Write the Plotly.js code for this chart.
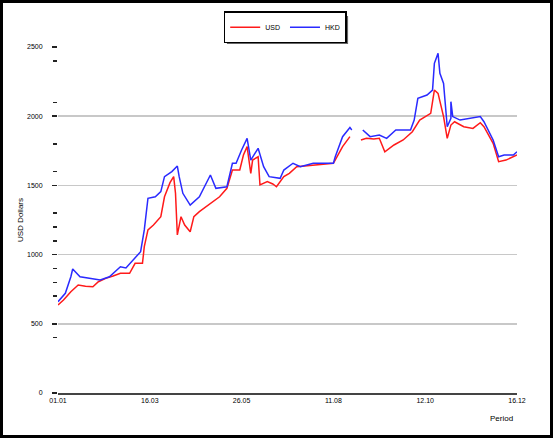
<!DOCTYPE html>
<html>
<head>
<meta charset="utf-8">
<script src="https://cdn.plot.ly/plotly-3.0.1.min.js"></script>
<style>
html,body{margin:0;padding:0;background:#fff;}
#wrap{width:547px;height:432px;border:3px solid #000;}
#chart{width:547px;height:432px;}
</style>
</head>
<body>
<div id="wrap"><div id="chart"></div></div>
<script>
// Series 1 (red)
const usdDays = [0,3,7,11,15,19,22,26,30,34,39,42,46,47,49,52,56,58,61,63,64,65,67,69,72,74,77,80,83,86,88,92,95,99,101,103,105,106,109,110,114,117,119,123,126,130,135,139,145,150,155,159,null,165,168,172,175,178,183,188,193,197,203,205,207,210,212,214,216,221,226,230,232,237,240,244,248,250];
const usdVals = [636,672,732,780,772,768,804,828,845,865,865,937,937,1057,1178,1214,1274,1418,1520,1563,1443,1142,1274,1214,1165,1274,1310,1340,1370,1395,1418,1479,1611,1611,1720,1780,1587,1683,1707,1503,1527,1510,1490,1563,1587,1635,1640,1647,1655,1660,1780,1852,null,1828,1840,1835,1840,1743,1792,1828,1888,1972,2021,2189,2165,1997,1840,1936,1960,1924,1912,1953,1924,1804,1671,1683,1707,1720];
// Series 2 (blue)
const hkdDays = [0,4,7,8,12,16,19,23,28,34,37,41,45,47,49,53,56,58,62,65,66,68,72,77,80,83,86,92,95,97,100,103,105,106,109,112,115,121,123,128,132,139,145,150,151,155,159,160,null,166,170,175,179,184,192,194,196,201,204,205,207,208,210,212,214,214,215,219,226,230,232,237,240,243,248,250];
const hkdVals = [660,720,840,896,840,830,824,816,840,912,903,961,1021,1178,1407,1418,1455,1563,1600,1640,1563,1443,1358,1418,1500,1575,1479,1490,1660,1660,1756,1840,1683,1707,1768,1635,1563,1551,1611,1660,1635,1660,1660,1660,1707,1852,1919,1900,null,1900,1852,1864,1840,1900,1900,1972,2129,2153,2189,2382,2454,2310,2237,1924,1985,2105,1997,1972,1985,1997,1960,1828,1707,1720,1720,1743];
const seriesNames = ['USD','HKD'];
const xTickVals = [0,50,100,150,200,250];
const xTickText = ['01.01','16.03','26.05','11.08','12.10','16.12'];
const yTickVals = [0,500,1000,1500,2000,2500];
const yMinorVals = [400,700,800,900,1100,1200,1300,1600,1800,2100,2400];
const yTitle = 'USD Dollars';
const xTitle = 'Period';

const traces = [
  {x: usdDays, y: usdVals, name: seriesNames[0], type: 'scatter', mode: 'lines',
   line: {color: '#ff1a1a', width: 1.5}, connectgaps: false},
  {x: hkdDays, y: hkdVals, name: seriesNames[1], type: 'scatter', mode: 'lines',
   line: {color: '#2a2aff', width: 1.5}, connectgaps: false}
];

const layout = {
  width: 547, height: 432,
  margin: {l: 55, r: 33, t: 44, b: 42, autoexpand: false},
  paper_bgcolor: '#fff', plot_bgcolor: '#fff',
  font: {family: 'Liberation Sans, Arial, sans-serif', size: 7, color: '#000'},
  showlegend: true,
  legend: {orientation: 'h', x: 0.495, xanchor: 'center', y: 1.103, yanchor: 'top',
    bordercolor: '#000', borderwidth: 1.5, bgcolor: '#fff',
    font: {size: 7, color: '#000'}, itemwidth: 30},
  xaxis: {range: [0, 250], tickvals: xTickVals, ticktext: xTickText,
    showgrid: false, zeroline: false, showline: true, linecolor: '#444', linewidth: 2,
    ticks: '', tickfont: {size: 7, color: '#000'}},
  yaxis: {range: [0, 2500], tickvals: yTickVals, showgrid: true, gridcolor: '#c8c8c8', gridwidth: 1.5,
    zeroline: false, showline: false, ticks: 'outside', ticklen: 5, tickcolor: '#222', tickwidth: 1.5,
    ticklabelstandoff: 8, tickfont: {size: 7, color: '#000'},
    minor: {tickmode: 'array', tickvals: yMinorVals, ticks: 'outside', ticklen: 4, tickcolor: '#222', tickwidth: 1.5, showgrid: false},
    title: {text: yTitle, font: {size: 8, color: '#000'}, standoff: 2}},
  shapes: [
    {type: 'rect', xref: 'paper', yref: 'paper', x0: 0.368, x1: 0.632, y0: 1.0087, y1: 1.0896,
     fillcolor: '#666', line: {width: 0}, layer: 'above'}
  ],
  annotations: [
    {text: xTitle, xref: 'paper', yref: 'paper', x: 0.995, xanchor: 'right', y: -0.055, yanchor: 'top',
     showarrow: false, font: {size: 8, color: '#000'}}
  ]
};

Plotly.newPlot('chart', traces, layout, {displayModeBar: false, staticPlot: true});
</script>
</body>
</html>
